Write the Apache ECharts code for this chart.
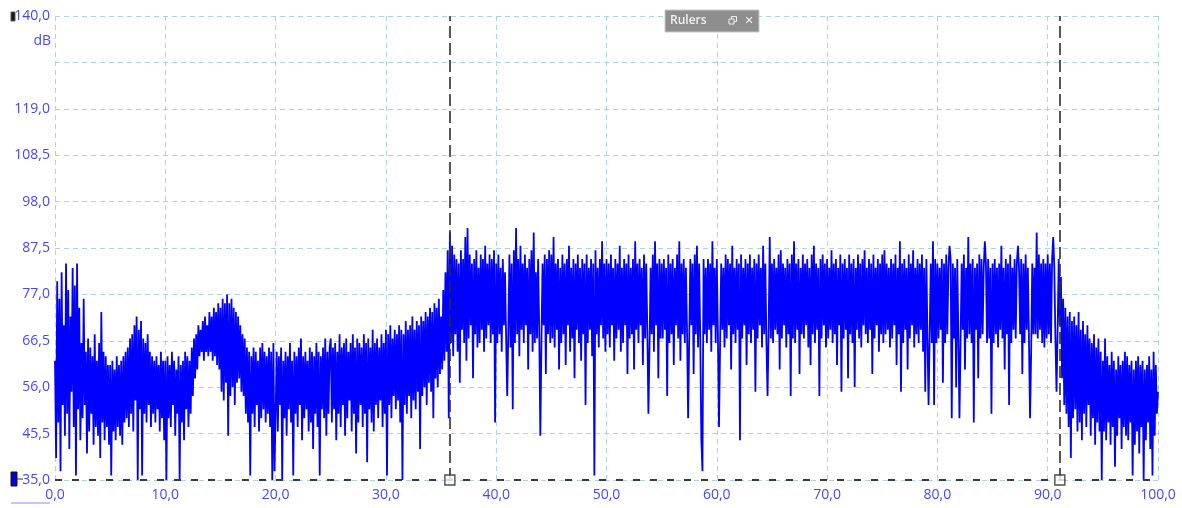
<!DOCTYPE html>
<html>
<head>
<meta charset="utf-8">
<script src="https://cdn.jsdelivr.net/npm/echarts@6/dist/echarts.min.js"></script>
<style>
html,body{margin:0;padding:0;background:#fff;}
#chart{width:1182px;height:508px;}
</style>
</head>
<body>
<div id="chart"></div>
<script>
// X axis: 0..100, Y axis: 35..140 dB
const xMin = 0, xMax = 100, xInterval = 10;
const yMin = 35, yMax = 140, yInterval = 10.5;
const hiddenYTicks = [129.5];
const yUnit = 'dB';
const xStep = 0.1; // spacing of samples along x

// Signal level (dB), one value every 0.1 on x
const seg00 = [62,40,80,48,76,37,82,52,70,45,84,50,78,42,72,55,83,47,79,36,84,51,74,44,66,49,76,52,64,41,67,46,65,50,63,43,68,47,62,45,66,40,73,48,64,44,63,47,61,43];
const seg05 = [61,36,62,46,60,44,63,47,61,45,62,43,63,48,64,49,65,47,67,50,68,46,70,53,72,35,69,51,71,36,67,50,66,48,68,52,64,47,63,50,62,48,63,51,61,46,64,49,62,44];
const seg10 = [62,35,63,49,61,47,64,52,62,45,60,50,63,35,61,48,62,44,64,51,63,47,62,50,65,54,67,58,68,60,70,63,69,64,71,62,72,64,70,63,73,64,72,62,74,63,73,61,75,60];
const seg15 = [74,55,76,53,75,57,77,45,75,54,76,56,74,52,73,57,72,58,70,55,68,54,67,50,65,48,64,36,63,50,65,47,64,52,62,46,65,49,66,51,64,48,63,50,65,47,64,35,66,37];
const seg20 = [50,64,46,63,52,65,35,62,49,64,45,63,51,66,48,62,36,64,50,63,47,65,52,67,44,63,49,64,51,62,46,65,48,64,42,63,50,66,47,64,36,63,51,65,49,67,45,64,50,65];
const seg25 = [67,48,65,51,66,44,64,50,68,47,65,52,66,45,67,49,64,53,66,46,68,50,65,41,67,48,66,52,65,47,68,50,66,39,67,51,65,48,69,46,66,52,67,49,65,53,68,47,66,50];
const seg30 = [69,36,68,52,70,49,67,54,69,51,68,53,70,48,69,35,68,52,71,50,69,54,70,49,72,53,69,51,71,55,70,42,72,54,71,56,73,52,72,57,74,55,73,49,75,58,74,56,76,59];
const seg35 = [72,60,78,62,82,64,87,49,91,66,88,63,86,68,85,64,84,57,87,69,85,66,90,62,92,67,86,70,84,58,85,68,87,65,83,66,86,69,85,64,88,67,84,70,86,66,85,68,87,48];
const seg40 = [84,66,86,68,83,64,85,70,82,67,54,69,86,65,84,51,87,66,92,68,85,63,88,69,84,66,86,70,83,60,85,68,87,64,91,66,82,67,85,69,45,66,84,70,86,59,85,68,87,66];
const seg45 = [86,67,90,65,84,69,85,60,83,66,86,68,84,61,85,70,88,64,83,67,85,58,84,69,86,66,83,62,85,68,84,52,86,66,83,69,85,63,84,36,87,68,83,65,85,70,89,67,84,64];
const seg50 = [85,68,84,65,86,70,83,62,85,67,84,69,88,64,83,66,85,70,84,59,86,67,83,68,85,60,89,69,84,66,85,70,83,61,86,67,84,69,50,65,83,68,86,64,89,70,84,58,85,67];
const seg55 = [84,67,85,69,83,54,86,66,84,68,85,61,83,70,86,67,89,62,84,68,85,66,83,69,49,67,85,70,84,59,86,68,88,65,84,67,44,37,85,68,83,66,85,69,84,64,89,70,83,66];
const seg60 = [85,68,47,66,84,69,83,65,86,67,85,70,84,60,88,68,83,66,85,69,84,44,86,67,83,70,85,61,84,68,86,66,83,69,85,55,84,67,86,70,83,65,88,68,84,66,54,69,90,67];
const seg65 = [84,66,85,69,83,68,86,60,87,67,84,70,83,65,85,68,84,54,86,67,89,66,84,69,85,59,83,68,86,67,84,70,85,65,83,61,86,68,88,66,84,69,83,54,85,67,86,70,84,65];
const seg70 = [85,67,83,69,87,66,84,68,85,61,83,70,86,55,84,67,85,69,83,58,86,68,84,66,85,56,83,69,86,67,84,65,85,70,87,68,83,66,85,69,84,59,86,67,83,70,85,64,84,68];
const seg75 = [86,66,87,68,84,69,83,65,85,67,84,70,86,61,83,68,89,55,84,66,85,69,83,60,86,67,84,70,87,65,83,68,85,66,84,69,86,64,83,55,85,67,52,68,84,66,89,52,85,66];
const seg80 = [84,67,83,69,85,57,84,66,86,68,83,88,85,49,84,67,83,56,85,68,49,66,84,69,86,60,83,67,90,68,84,66,85,48,83,69,84,58,86,67,85,68,83,89,84,66,85,67,83,50];
const seg85 = [84,66,85,68,83,65,84,69,88,67,83,60,85,68,84,52,86,66,83,69,85,67,84,88,83,68,85,59,84,66,86,69,83,67,49,64,84,68,83,68,91,67,86,69,84,66,85,65,84,67];
const seg90 = [86,68,84,66,85,90,83,67,55,69,85,70,81,58,76,52,74,50,72,47,73,40,71,49,72,51,70,46,73,48,69,44,71,50,68,47,70,52,67,45,66,49,68,43,65,48,67,46,64,35];
const seg95 = [62,46,67,44,63,48,61,43,64,47,62,38,60,45,63,49,61,42,62,47,64,45,63,44,61,48,62,36,60,43,62,46,63,41,61,47,62,35,60,44,61,48,63,42,60,36,64,45,61,50,55];

// Ruler positions (x) and baseline (y)
const rulerX = [35.8, 91.1];
const rulerY = 35;

const values = [].concat(seg00,seg05,seg10,seg15,seg20,seg25,seg30,seg35,seg40,seg45,
  seg50,seg55,seg60,seg65,seg70,seg75,seg80,seg85,seg90,seg95);
const lineData = values.map((v, i) => [+(i * xStep).toFixed(1), v]);

const fmt = v => v.toFixed(1).replace('.', ',');
const labelColor = '#4646ff';
const gridColor = '#a9d6e6';
const font = 'Open Sans';

const chart = echarts.init(document.getElementById('chart'), null, {renderer: 'canvas'});
chart.setOption({
  animation: false,
  backgroundColor: '#ffffff',
  grid: {left: 55, right: 24, top: 16, bottom: 28, containLabel: false},
  xAxis: {
    type: 'value', min: xMin, max: xMax, interval: xInterval,
    axisLine: {show: false}, axisTick: {show: false},
    axisLabel: {formatter: fmt, color: labelColor, fontFamily: font, fontSize: 14, margin: 8},
    splitLine: {show: true, lineStyle: {color: gridColor, type: [5, 4], width: 1}}
  },
  yAxis: {
    type: 'value', min: yMin, max: yMax, interval: yInterval,
    axisLine: {show: false}, axisTick: {show: false},
    axisLabel: {
      formatter: v => hiddenYTicks.some(h => Math.abs(h - v) < 1e-6) ? '' : fmt(v),
      color: labelColor, fontFamily: font, fontSize: 14, margin: 5
    },
    splitLine: {show: true, lineStyle: {color: gridColor, type: [5, 4], width: 1}}
  },
  series: [
    {
      type: 'line',
      data: lineData,
      showSymbol: false,
      symbol: 'none',
      sampling: null,
      lineStyle: {color: '#0000ff', width: 1.8, join: 'bevel'},
      z: 2,
      markLine: {
        silent: true,
        symbol: ['none', 'none'],
        label: {show: false},
        data: [
          ...rulerX.map(x => ({xAxis: x, lineStyle: {color: '#2e2e2e', type: [12, 5], width: 1.6}})),
          {yAxis: rulerY, lineStyle: {color: '#3a3a3a', type: [7, 10], width: 2}}
        ]
      }
    },
    {
      type: 'scatter',
      data: rulerX.map(x => [x, rulerY]),
      symbol: 'rect',
      symbolSize: 10,
      itemStyle: {color: '#ffffff', borderColor: '#222222', borderWidth: 1.4},
      z: 5
    }
  ],
  graphic: [
    {type: 'text', x: 51, y: 41, z: 10,
      style: {text: yUnit, fill: labelColor, font: '14px "Open Sans"', align: 'right', verticalAlign: 'middle'}},
    {type: 'rect', z: 10, shape: {x: 11, y: 12, width: 4, height: 9}, style: {fill: '#1a1a1a', stroke: '#555', lineWidth: 1}},
    {type: 'rect', z: 10, shape: {x: 11, y: 472, width: 6, height: 14}, style: {fill: '#0000dd', stroke: '#111', lineWidth: 1}},
    {type: 'line', z: 10, shape: {x1: 17, y1: 479, x2: 23, y2: 479}, style: {stroke: '#333', lineWidth: 1}},
    {type: 'line', z: 10, shape: {x1: 11, y1: 503, x2: 50, y2: 503}, style: {stroke: '#8a8aff', lineWidth: 1}},
    {type: 'group', x: 665, y: 10, z: 20, children: [
      {type: 'rect', z: 20, shape: {x: 0, y: 0, width: 94, height: 22}, style: {fill: '#8e8e8e', stroke: '#c8c8c8', lineWidth: 1}},
      {type: 'text', z: 21, x: 5, y: 11, style: {text: 'Rulers', fill: '#f2f2f2', font: '600 12px "Open Sans"', verticalAlign: 'middle'}},
      {type: 'rect', z: 21, shape: {x: 64, y: 9, width: 5, height: 5}, style: {fill: 'none', stroke: '#f2f2f2', lineWidth: 1}},
      {type: 'polyline', z: 21, shape: {points: [[66.5, 9], [66.5, 6.5], [71.5, 6.5], [71.5, 11.5], [69, 11.5]]}, style: {fill: 'none', stroke: '#f2f2f2', lineWidth: 1}},
      {type: 'text', z: 21, x: 84, y: 11, style: {text: '✕', fill: '#f2f2f2', font: 'bold 11px "DejaVu Sans"', align: 'center', verticalAlign: 'middle'}}
    ]}
  ]
});
</script>
</body>
</html>
